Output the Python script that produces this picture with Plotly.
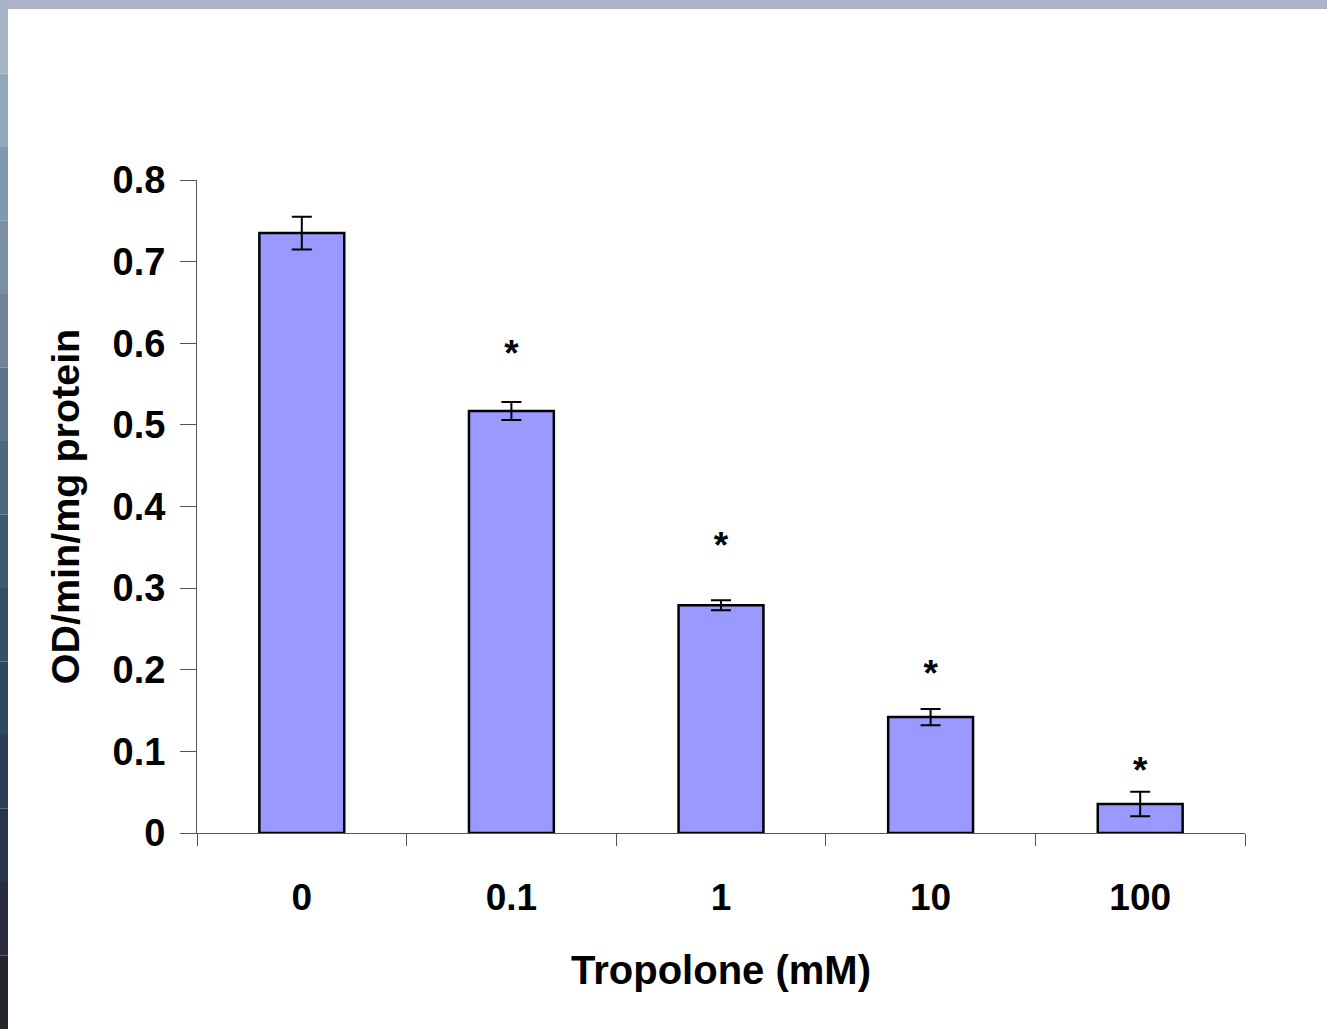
import plotly.graph_objects as go

categories = ["0", "0.1", "1", "10", "100"]
values = [0.735, 0.517, 0.279, 0.142, 0.0355]
errors = [0.020, 0.011, 0.006, 0.010, 0.015]
star_cats = ["0.1", "1", "10", "100"]
star_y = [0.584, 0.348, 0.192, 0.072]
y_ticks = [0, 0.1, 0.2, 0.3, 0.4, 0.5, 0.6, 0.7, 0.8]
y_tick_labels = ["0", "0.1", "0.2", "0.3", "0.4", "0.5", "0.6", "0.7", "0.8"]

W, H = 1327, 1029
ML, MR, MT, MB = 197, 82, 180, 196
PW, PH = W - ML - MR, H - MT - MB

def px_x(x):
    return (x - ML) / PW

def px_y(y):
    return (H - MB - y) / PH

FONT = "Liberation Sans, Arial, sans-serif"

fig = go.Figure()
fig.add_trace(go.Bar(
    x=categories, y=values,
    marker=dict(color="#9999FF", line=dict(color="black", width=2.5)),
    error_y=dict(type="data", array=errors, visible=True, color="black", thickness=2, width=10),
    showlegend=False, hoverinfo="skip",
))
fig.add_trace(go.Scatter(
    x=star_cats, y=star_y, mode="text", text=["*"] * len(star_cats),
    textposition="middle center",
    textfont=dict(family=FONT, size=37, color="black", weight="bold"),
    showlegend=False, hoverinfo="skip",
))

shapes = []
shapes.append(dict(type="rect", xref="paper", yref="paper", x0=px_x(0), x1=px_x(W),
                   y0=px_y(9), y1=px_y(0), fillcolor="#aeb4c8", line=dict(width=0), layer="below"))
left_cols = ["#a6b4c6", "#94a8bc", "#7e9ab2", "#7a8ea4", "#6f8298", "#5c7489", "#4c687e",
             "#3e5a72", "#345068", "#2e485e", "#2c3e56", "#28344a", "#282c3c", "#26262c"]
n = len(left_cols)
for i, col in enumerate(left_cols):
    ya = H * i / n
    yb = H * (i + 1) / n
    shapes.append(dict(type="rect", xref="paper", yref="paper", x0=px_x(0), x1=px_x(8),
                       y0=px_y(yb), y1=px_y(ya), fillcolor=col, line=dict(width=0), layer="below"))

fig.update_layout(
    width=W, height=H,
    margin=dict(l=ML, r=MR, t=MT, b=MB, pad=0),
    paper_bgcolor="white", plot_bgcolor="white",
    bargap=0.595,
    shapes=shapes,
    font=dict(family=FONT, color="black"),
    xaxis=dict(
        type="category", categoryorder="array", categoryarray=categories,
        range=[-0.5, len(categories) - 0.5], tickangle=0,
        tickson="boundaries", ticks="outside", ticklen=12, tickcolor="#555",
        tickwidth=1, showline=True, linecolor="#555", linewidth=1, showgrid=False,
        ticklabelstandoff=32,
        tickfont=dict(family=FONT, size=37, weight="bold"),
        title=dict(text="Tropolone (mM)", font=dict(family=FONT, size=40, weight="bold"), standoff=38),
    ),
    yaxis=dict(
        range=[0, 0.8], tickvals=y_ticks, ticktext=y_tick_labels, ticks="outside", ticklen=16,
        tickcolor="#555", tickwidth=1, showline=True, linecolor="#555", linewidth=1,
        showgrid=False, zeroline=False, ticklabelstandoff=7,
        tickfont=dict(family=FONT, size=38, weight="bold"),
        title=dict(text="OD/min/mg protein", font=dict(family=FONT, size=39.5, weight="bold"), standoff=20),
    ),
)

fig.write_html("out.html")
